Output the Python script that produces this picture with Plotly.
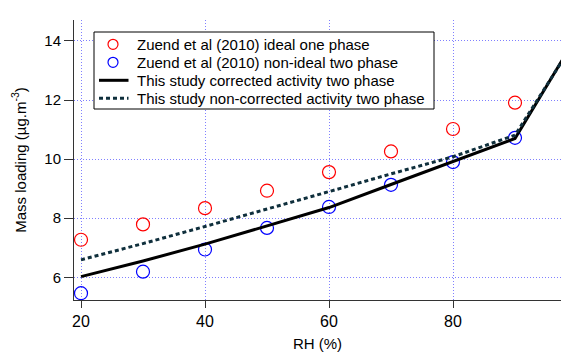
import plotly.graph_objects as go

rh_points = [20, 30, 40, 50, 60, 70, 80, 90, 98.5]
zuend_ideal_one = [7.27, 7.79, 8.34, 8.93, 9.56, 10.26, 11.02, 11.91, 14.75]
zuend_nonideal_two = [5.46, 6.19, 6.94, 7.67, 8.38, 9.13, 9.90, 10.72, 13.72]

rh_model = [20, 30, 40, 50, 60, 70, 80, 90, 98.5]
corrected_two = [6.02, 6.55, 7.12, 7.73, 8.36, 9.14, 9.93, 10.70, 13.66]
noncorrected_two = [6.59, 7.14, 7.72, 8.30, 8.90, 9.50, 10.08, 10.81, 13.62]

legend_labels = [
    "Zuend et al (2010) ideal one phase",
    "Zuend et al (2010) non-ideal two phase",
    "This study corrected activity two phase",
    "This study non-corrected activity two phase",
]

FONT = "Liberation Sans"
RED, BLUE, BLACK, DOT = "#ff0000", "#0000ff", "#000000", "#0f2f3c"
DOTDASH = "4px,3px"

# page offset of the plotly div (default body margin) and visible plot box in page pixels
OFF = 8
PLOT_L, PLOT_T, PLOT_R, PLOT_B = 74, 20, 561, 300
FIG_W, FIG_H = 553, 344


def px(x):
    return (x - PLOT_L) / (PLOT_R - PLOT_L)


def py(y):
    return (PLOT_B - y) / (PLOT_B - PLOT_T)


fig = go.Figure()
fig.add_trace(go.Scatter(
    x=rh_points, y=zuend_ideal_one, mode="markers", name=legend_labels[0],
    marker=dict(symbol="circle-open", size=13, color=RED, line=dict(width=1.2)),
    showlegend=False, cliponaxis=False,
))
fig.add_trace(go.Scatter(
    x=rh_points, y=zuend_nonideal_two, mode="markers", name=legend_labels[1],
    marker=dict(symbol="circle-open", size=13, color=BLUE, line=dict(width=1.2)),
    showlegend=False, cliponaxis=False,
))
fig.add_trace(go.Scatter(
    x=rh_model, y=corrected_two, mode="lines", name=legend_labels[2],
    line=dict(color=BLACK, width=3), showlegend=False,
))
fig.add_trace(go.Scatter(
    x=rh_model, y=noncorrected_two, mode="lines", name=legend_labels[3],
    line=dict(color=DOT, width=3, dash=DOTDASH), showlegend=False,
))

# manual legend (compact row spacing as in the reference)
shapes = [dict(type="rect", xref="paper", yref="paper",
               x0=px(94), x1=px(434), y0=py(109), y1=py(32),
               line=dict(color="#000", width=1), fillcolor="white", layer="above")]
annotations = []
row_y = [44.3, 62.3, 80.3, 98.3]
for i, lab in enumerate(legend_labels):
    yc = row_y[i]
    if i < 2:
        col = RED if i == 0 else BLUE
        shapes.append(dict(type="circle", xref="paper", yref="paper",
                           x0=px(108), x1=px(118), y0=py(yc + 5), y1=py(yc - 5),
                           line=dict(color=col, width=1.2), layer="above"))
    else:
        shapes.append(dict(type="line", xref="paper", yref="paper",
                           x0=px(99), x1=px(128.5), y0=py(yc), y1=py(yc),
                           line=dict(color=BLACK if i == 2 else DOT, width=3,
                                     dash="solid" if i == 2 else DOTDASH),
                           layer="above"))
    annotations.append(dict(text=lab, xref="paper", yref="paper",
                            x=px(135), y=py(yc), xanchor="left", yanchor="middle",
                            showarrow=False, font=dict(family=FONT, size=15, color="#000")))

fig.update_layout(
    width=FIG_W, height=FIG_H,
    margin=dict(l=PLOT_L - OFF, r=FIG_W - (PLOT_R - OFF), t=PLOT_T - OFF,
                b=FIG_H - (PLOT_B - OFF), autoexpand=False),
    plot_bgcolor="white", paper_bgcolor="white",
    font=dict(family=FONT, size=15, color="#000"),
    showlegend=False,
    shapes=shapes, annotations=annotations,
)
fig.update_xaxes(
    range=[18.87, 97.42], automargin=False,
    tickvals=[20, 40, 60, 80],
    showgrid=True, gridcolor="#8080ff", griddash="1px,2px", gridwidth=1,
    zeroline=False,
    showline=True, linecolor="#333", linewidth=1,
    ticks="outside", ticklen=7, tickcolor="#333",
    title=dict(text="RH (%)", font=dict(size=15), standoff=12),
    tickfont=dict(size=16),
)
fig.update_yaxes(
    range=[5.23, 14.71], automargin=False,
    tickvals=[6, 8, 10, 12, 14],
    showgrid=True, gridcolor="#8080ff", griddash="1px,2px", gridwidth=1,
    zeroline=False,
    showline=True, linecolor="#333", linewidth=1,
    ticks="outside", ticklen=9, tickcolor="#333",
    title=dict(text="Mass loading (µg.m<sup>-3</sup>)", font=dict(size=15), standoff=14),
    tickfont=dict(size=15),
)

fig.write_html("out.html")
